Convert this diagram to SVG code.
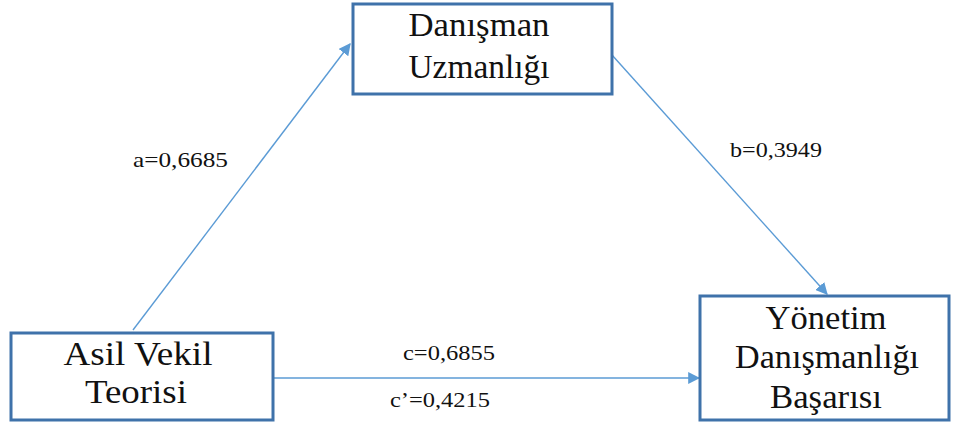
<svg xmlns="http://www.w3.org/2000/svg" width="953" height="425" viewBox="0 0 953 425">
  <style>
    .box { fill: #ffffff; stroke: #3f72aa; stroke-width: 3; }
    .node { font-family: "Liberation Serif", "Times New Roman", serif; font-size: 34.5px; fill: #111111; text-anchor: middle; }
    .lbl { font-family: "Liberation Serif", "Times New Roman", serif; font-size: 22px; fill: #111111; }
    .link { stroke: #5b9bd5; stroke-width: 1.4; fill: none; marker-end: url(#arrow); }
  </style>
  <defs>
    <marker id="arrow" viewBox="0 0 10 10" refX="9" refY="5" markerWidth="12" markerHeight="12" markerUnits="userSpaceOnUse" orient="auto">
      <path d="M0,0 L10,5 L0,10 z" fill="#5b9bd5"/>
    </marker>
  </defs>

  <rect width="953" height="425" fill="#ffffff"/>

  <g id="connectors">
    <line class="link" x1="133" y1="330" x2="350" y2="44"/>
    <line class="link" x1="612" y1="55" x2="827" y2="294"/>
    <line class="link" x1="274" y1="378" x2="699" y2="378"/>
  </g>

  <g id="labels">
    <text class="lbl" x="133" y="167" textLength="95" lengthAdjust="spacingAndGlyphs">a=0,6685</text>
    <text class="lbl" x="730" y="157" textLength="92" lengthAdjust="spacingAndGlyphs">b=0,3949</text>
    <text class="lbl" x="403" y="360" textLength="92" lengthAdjust="spacingAndGlyphs">c=0,6855</text>
    <text class="lbl" x="390" y="407" textLength="100" lengthAdjust="spacingAndGlyphs">c’=0,4215</text>
  </g>

  <g id="danisman-uzmanligi">
    <rect class="box" x="353" y="4" width="259" height="90"/>
    <text class="node" x="479" y="36" textLength="141" lengthAdjust="spacingAndGlyphs">Danışman</text>
    <text class="node" x="479" y="78" textLength="141" lengthAdjust="spacingAndGlyphs">Uzmanlığı</text>
  </g>

  <g id="asil-vekil-teorisi">
    <rect class="box" x="11" y="333" width="262" height="87"/>
    <text class="node" x="138" y="365" textLength="149" lengthAdjust="spacingAndGlyphs">Asil Vekil</text>
    <text class="node" x="136" y="403" textLength="102" lengthAdjust="spacingAndGlyphs">Teorisi</text>
  </g>

  <g id="yonetim-danismanligi-basarisi">
    <rect class="box" x="700" y="296" width="249" height="124"/>
    <text class="node" x="826" y="329" textLength="121" lengthAdjust="spacingAndGlyphs">Yönetim</text>
    <text class="node" x="827" y="368" textLength="184" lengthAdjust="spacingAndGlyphs">Danışmanlığı</text>
    <text class="node" x="826" y="408" textLength="112" lengthAdjust="spacingAndGlyphs">Başarısı</text>
  </g>
</svg>
